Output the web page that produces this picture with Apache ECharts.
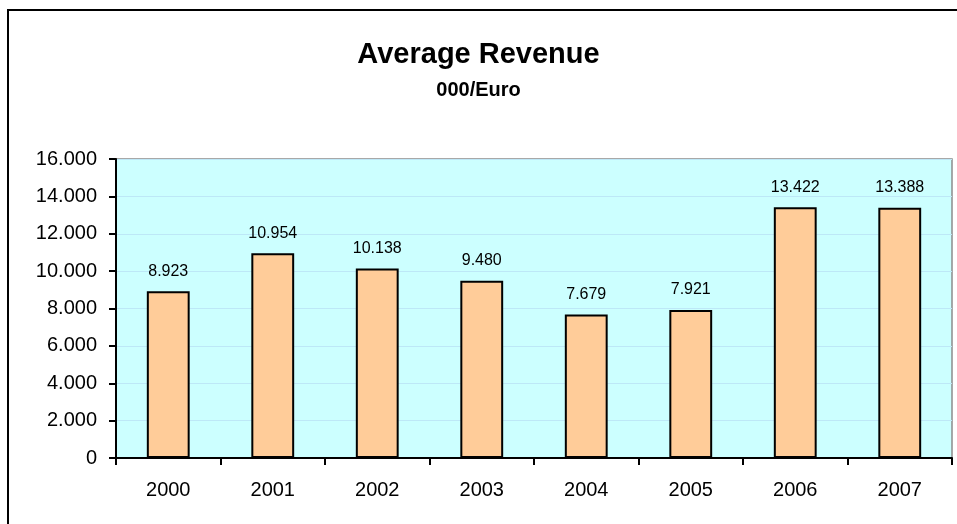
<!DOCTYPE html>
<html>
<head>
<meta charset="utf-8">
<script src="https://cdn.jsdelivr.net/npm/echarts@6/dist/echarts.min.js"></script>
<style>
html,body{margin:0;padding:0;background:#fff;}
#chart{width:957px;height:524px;}
</style>
</head>
<body>
<div id="chart"></div>
<script>
var categories = ['2000','2001','2002','2003','2004','2005','2006','2007'];
var revenue = [8923, 10954, 10138, 9480, 7679, 7921, 13422, 13388];
var yMin = 0, yMax = 16000, yStep = 2000;

function fmt(v){
  var s = String(Math.round(v));
  return s.replace(/\B(?=(\d{3})+(?!\d))/g, '.');
}

var chart = echarts.init(document.getElementById('chart'));
chart.setOption({
  animation: false,
  backgroundColor: '#ffffff',
  textStyle: { fontFamily: 'Liberation Sans, Arial, sans-serif' },
  graphic: [{
    type: 'rect', z: 100, silent: true,
    shape: { x: 8, y: 10, width: 1000, height: 600 },
    style: { fill: 'none', stroke: '#000', lineWidth: 2 }
  }],
  title: [
    { text: 'Average Revenue', left: 'center', top: 35,
      textStyle: { fontSize: 29, fontWeight: 'bold', color: '#000', fontFamily: 'Liberation Sans, Arial, sans-serif' } },
    { text: '000/Euro', left: 'center', top: 75,
      textStyle: { fontSize: 20, fontWeight: 'bold', color: '#000', fontFamily: 'Liberation Sans, Arial, sans-serif' } }
  ],
  grid: { left: 116, right: 5, top: 159, bottom: 66, show: true,
          backgroundColor: '#CCFFFF', borderColor: '#8c8c8c', borderWidth: 1.5 },
  xAxis: {
    type: 'category', data: categories,
    axisLine: { lineStyle: { color: '#000', width: 2 } },
    axisTick: { show: true, length: 7, lineStyle: { color: '#000', width: 2 } },
    axisLabel: { color: '#000', fontSize: 20, margin: 22 }
  },
  yAxis: {
    type: 'value', min: yMin, max: yMax, interval: yStep,
    axisLine: { show: true, lineStyle: { color: '#000', width: 2 } },
    axisTick: { show: true, length: 7, lineStyle: { color: '#000', width: 2 } },
    axisLabel: { color: '#000', fontSize: 20, margin: 19, formatter: function(v){ return fmt(v); } },
    splitLine: { show: true, lineStyle: { color: '#BDE8F7', width: 1 } }
  },
  series: [{
    type: 'bar', data: revenue, barWidth: '41%',
    itemStyle: { color: '#FFCC99', borderColor: '#000', borderWidth: 2 },
    label: { show: true, position: 'top', distance: 12, color: '#000', fontSize: 16,
             formatter: function(p){ return fmt(p.value); } }
  }]
});
</script>
</body>
</html>
